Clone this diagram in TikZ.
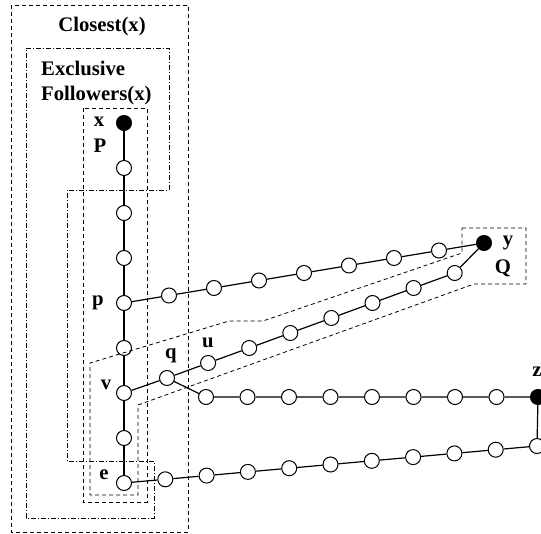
\documentclass[tikz,border=0pt]{standalone}
\usepackage{fontspec}
\setmainfont{Liberation Serif}
\begin{document}
\begin{tikzpicture}[x=1pt,y=-1pt,
  vtx/.style={circle,draw,line width=1pt,fill=white,minimum size=15pt,inner sep=0pt},
  fvtx/.style={vtx,fill=black},
  lbl/.style={font=\fontsize{20.7}{25}\selectfont\bfseries,inner sep=0pt},
  link/.style={line width=1.2pt},
  dashbox/.style={line width=0.8pt,dash pattern=on 4pt off 3pt},
  dotbox/.style={line width=0.8pt,dash pattern=on 5pt off 2pt on 1pt off 2pt}]
\useasboundingbox (0,0) rectangle (541,533);

% main path from x down to e
\node[fvtx] (x) at (124,123) {};
\node[vtx] (a1) at (124,168) {};
\node[vtx] (a2) at (124,213) {};
\node[vtx] (a3) at (124,258) {};
\node[vtx] (p) at (124,303) {};
\node[vtx] (a5) at (124,348) {};
\node[vtx] (v) at (124,393) {};
\node[vtx] (a7) at (124,438) {};
\node[vtx] (e) at (124,483) {};
\draw[link] (x) -- (a1) -- (a2) -- (a3) -- (p) -- (a5) -- (v) -- (a7) -- (e);

% y and its chain from p
\node[fvtx] (y) at (484,243) {};
\foreach \k in {1,...,7} {
  \node[vtx] (b\k) at ({124+45*\k},{303-7.5*\k}) {};
}
\draw[link] (p) -- (b1) -- (b2) -- (b3) -- (b4) -- (b5) -- (b6) -- (b7) -- (y);

% chain from q to y
\node[vtx] (q) at (167,378) {};
\foreach \k in {1,...,7} {
  \node[vtx] (c\k) at ({167+41.1*\k},{378-15*\k}) {};
}
\draw[link] (v) -- (q) -- (c1) -- (c2) -- (c3) -- (c4) -- (c5) -- (c6) -- (c7) -- (y);

% horizontal chain from q to z
\node[fvtx] (z) at (538,397) {};
\foreach \k in {0,...,7} {
  \node[vtx] (d\k) at ({206+41.5*\k},397) {};
}
\draw[link] (q) -- (d0) -- (d1) -- (d2) -- (d3) -- (d4) -- (d5) -- (d6) -- (d7) -- (z);

% chain from e back to z
\foreach \k in {1,...,10} {
  \node[vtx] (g\k) at ({124+41.3*\k},{483-3.7*\k}) {};
}
\draw[link] (e) -- (g1) -- (g2) -- (g3) -- (g4) -- (g5) -- (g6) -- (g7) -- (g8) -- (g9) -- (g10) -- (z);

% region outlines
\draw[dashbox] (11,5) rectangle (188,532);
\draw[dotbox] (26,48) -- (169,48) -- (169,190) -- (67,190) -- (67,461)
  -- (154,461) -- (154,518) -- (26,518) -- cycle;
\draw[dashbox] (83,108) rectangle (147,502);
\draw[dashbox] (462,228) -- (526,228) -- (526,284) -- (474,284) -- (138,405)
  -- (138,495) -- (90,495) -- (90,363) -- (229,321) -- (263,321) -- (462,253) -- cycle;

% labels
\node[lbl] (tclosest) at (102,27) {Closest(x)};
\node[lbl,anchor=west,align=left] (texcl) at (41,83) {Exclusive\\Followers(x)};
\node[lbl] (tx) at (99,122) {x};
\node[lbl] (tP) at (100,146) {P};
\node[lbl] (tp) at (98,303) {p};
\node[lbl] (tv) at (106,385) {v};
\node[lbl] (tq) at (171,356) {q};
\node[lbl] (tu) at (208,343) {u};
\node[lbl] (te) at (104,475) {e};
\node[lbl] (ty) at (508,243) {y};
\node[lbl] (tQ) at (503,268) {Q};
\node[lbl] (tz) at (537,372) {z};
\end{tikzpicture}
\end{document}
